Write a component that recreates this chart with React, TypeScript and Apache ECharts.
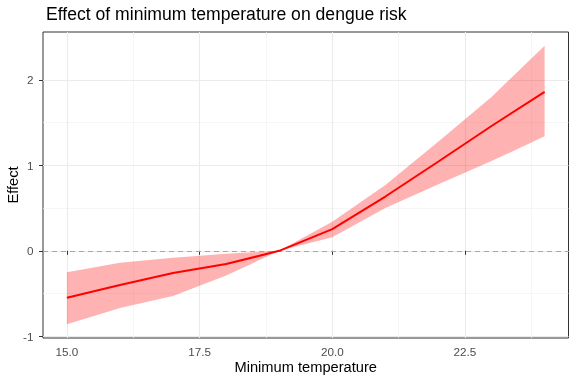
import React, { useEffect, useRef } from "react";
import * as echarts from "echarts";

const temps = [15, 16, 17, 18, 19, 20, 21, 22, 23, 24];
const fit = [-0.55, -0.4, -0.26, -0.155, 0, 0.254, 0.635, 1.045, 1.46, 1.86];
const upper = [-0.25, -0.14, -0.08, -0.035, 0, 0.34, 0.77, 1.28, 1.8, 2.4];
const lower = [-0.86, -0.67, -0.53, -0.29, 0, 0.16, 0.5, 0.78, 1.05, 1.34];

const xTicks = [15, 17.5, 20, 22.5];
const xMinor = [16.25, 18.75, 21.25, 23.75];
const yTicks = [-1, 0, 1, 2];
const yMinor = [-0.5, 0.5, 1.5];

const FONT = "Liberation Sans, Arial, sans-serif";

export default function App() {
  const ref = useRef<HTMLDivElement>(null);
  useEffect(() => {
    if (!ref.current) return;
    const chart = echarts.init(ref.current, undefined, { renderer: "svg" });
    const gridLine = (color: string, width: number) => ({
      symbol: ["none", "none"],
      silent: true,
      z: 0,
      label: { show: false },
      lineStyle: { color, width, type: "solid" },
    });
    chart.setOption({
      animation: false,
      title: {
        text: "Effect of minimum temperature on dengue risk",
        left: 41,
        top: 0,
        textStyle: { fontFamily: FONT, fontSize: 17.6, fontWeight: "normal", color: "#000" },
      },
      grid: {
        left: 43,
        top: 32,
        right: 7.5,
        bottom: 46,
        outerBoundsMode: "none",
        containLabel: false,
        show: true,
        borderColor: "#333333",
        borderWidth: 1,
        backgroundColor: "#fff",
      },
      xAxis: {
        type: "value",
        min: 14.55,
        max: 24.45,
        name: "Minimum temperature",
        nameLocation: "middle",
        nameGap: 29.4,
        nameMoveOverlap: false,
        nameTextStyle: { fontFamily: FONT, fontSize: 14.67, color: "#000", verticalAlign: "middle", align: "center" },
        axisLine: { show: false },
        splitLine: { show: false },
        axisTick: { show: true, length: 4, customValues: xTicks, lineStyle: { color: "#333" } },
        axisLabel: {
          customValues: xTicks,
          formatter: (v: number) => v.toFixed(1),
          fontFamily: FONT,
          fontSize: 11.7,
          color: "#4D4D4D",
          margin: 7,
        },
      },
      yAxis: {
        type: "value",
        min: -1.02,
        max: 2.56,
        name: "Effect",
        nameLocation: "middle",
        nameRotate: 90,
        nameGap: 30,
        nameMoveOverlap: false,
        nameTextStyle: { fontFamily: FONT, fontSize: 14.67, color: "#000", verticalAlign: "middle", align: "center" },
        axisLine: { show: false },
        splitLine: { show: false },
        axisTick: { show: true, length: 4, customValues: yTicks, lineStyle: { color: "#333" } },
        axisLabel: {
          customValues: yTicks,
          formatter: (v: number) => String(Math.round(v)),
          fontFamily: FONT,
          fontSize: 11.7,
          color: "#4D4D4D",
          margin: 9.5,
        },
      },
      series: [
        {
          name: "grid",
          type: "line",
          data: [],
          silent: true,
          z: 0,
          markLine: {
            ...gridLine("#F2F2F2", 0.7),
            data: [
              ...xMinor.map((v) => ({ xAxis: v })),
              ...yMinor.map((v) => ({ yAxis: v })),
            ],
          },
        },
        {
          name: "gridMajor",
          type: "line",
          data: [],
          silent: true,
          z: 0,
          markLine: {
            ...gridLine("#EBEBEB", 1.1),
            data: [
              ...xTicks.map((v) => ({ xAxis: v })),
              ...yTicks.map((v) => ({ yAxis: v })),
            ],
          },
        },
        {
          name: "band",
          type: "custom",
          data: [0],
          silent: true,
          z: 1,
          renderItem: (params: any, api: any) => {
            const pts: number[][] = [];
            for (let i = 0; i < temps.length; i++) pts.push(api.coord([temps[i], upper[i]]));
            for (let i = temps.length - 1; i >= 0; i--) pts.push(api.coord([temps[i], lower[i]]));
            return {
              type: "polygon",
              shape: { points: pts },
              style: { fill: "rgba(255,0,0,0.3)", stroke: "none" },
            };
          },
        },
        {
          name: "zero",
          type: "line",
          data: [],
          silent: true,
          z: 2,
          markLine: {
            symbol: ["none", "none"],
            silent: true,
            z: 2,
            label: { show: false },
            lineStyle: { color: "#A6A6A6", width: 1, type: [5, 4] },
            data: [{ yAxis: 0 }],
          },
        },
        {
          name: "fit",
          type: "line",
          data: temps.map((t, i) => [t, fit[i]]),
          symbol: "none",
          lineStyle: { color: "#FF0000", width: 2 },
          z: 3,
        },
      ],
    });
    return () => chart.dispose();
  }, []);
  return (
    <div
      ref={ref}
      style={{ position: "fixed", left: 0, top: 0, width: 576, height: 384 }}
    />
  );
}
